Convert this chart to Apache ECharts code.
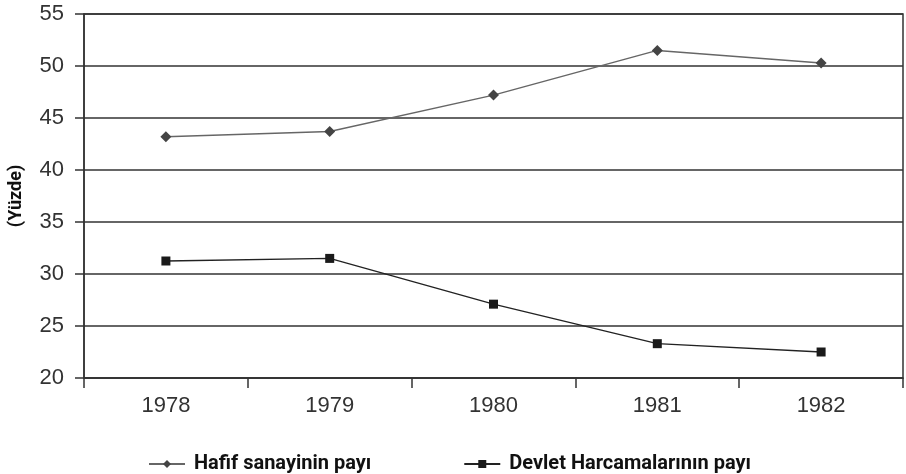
<!DOCTYPE html>
<html>
<head>
<meta charset="utf-8">
<script src="https://cdn.jsdelivr.net/npm/echarts@6/dist/echarts.min.js"></script>
<style>
  html, body { margin: 0; padding: 0; background: #fff; }
  #chart { width: 906px; height: 474px; }
</style>
</head>
<body>
<div id="chart"></div>
<script>
const years = ['1978', '1979', '1980', '1981', '1982'];
const hafifSanayi = [43.2, 43.7, 47.2, 51.5, 50.3];
const devletHarcama = [31.25, 31.5, 27.1, 23.3, 22.5];
const seriesNames = ['Hafif sanayinin payı', 'Devlet Harcamalarının payı'];

const chart = echarts.init(document.getElementById('chart'));

const option = {
  animation: false,
  grid: {
    left: 84, right: 3, top: 14, bottom: 96,
    outerBoundsMode: 'none',
    containLabel: false,
    show: true, borderColor: '#333', borderWidth: 1.5
  },
  legend: {
    top: 449,
    left: 143,
    itemGap: 92,
    itemWidth: 36,
    itemHeight: 10,
    textStyle: { fontFamily: 'Roboto', fontWeight: 'bold', fontSize: 20, color: '#111', padding: [0, 0, 0, 4] },
    data: seriesNames
  },
  xAxis: {
    type: 'category',
    data: years,
    boundaryGap: true,
    axisLine: { lineStyle: { color: '#333', width: 1.5 } },
    axisTick: { show: true, length: 10, lineStyle: { color: '#333', width: 1.5 } },
    axisLabel: { color: '#333', fontSize: 22, fontFamily: 'Liberation Sans', margin: 17 }
  },
  yAxis: {
    type: 'value',
    min: 20, max: 55, interval: 5,
    name: '(Yüzde)',
    nameLocation: 'middle',
    nameGap: 59,
    nameTextStyle: { fontFamily: 'Roboto', fontWeight: 'bold', fontSize: 18, color: '#111' },
    axisLine: { show: true, lineStyle: { color: '#333', width: 1.5 } },
    axisTick: { show: true, length: 9, lineStyle: { color: '#333', width: 1.5 } },
    axisLabel: { color: '#333', fontSize: 22, fontFamily: 'Liberation Sans', margin: 20 },
    splitLine: { lineStyle: { color: '#333', width: 1.5 } }
  },
  series: [
    {
      name: seriesNames[0],
      type: 'line',
      data: hafifSanayi,
      symbol: 'diamond',
      symbolSize: 11,
      itemStyle: { color: '#444' },
      lineStyle: { color: '#666', width: 1.5 }
    },
    {
      name: seriesNames[1],
      type: 'line',
      data: devletHarcama,
      symbol: 'rect',
      symbolSize: 9,
      itemStyle: { color: '#1a1a1a' },
      lineStyle: { color: '#222', width: 1.3 }
    }
  ]
};

chart.setOption(option);
</script>
</body>
</html>
